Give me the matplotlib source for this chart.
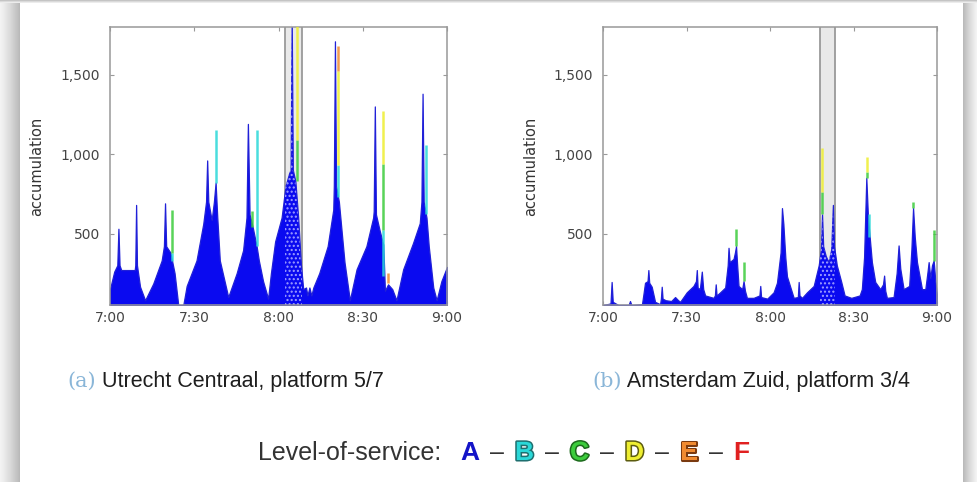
import numpy as np
import matplotlib.pyplot as plt
from matplotlib import patheffects as pe
from matplotlib.patches import Rectangle

# level-of-service colours
LOS = {'A': '#0a0af0', 'B': '#2ad8d8', 'C': '#3ccc3c', 'D': '#eeee30', 'E': '#f08a30', 'F': '#e02020'}

# time axis in minutes after 7:00
xticks = [0, 30, 60, 90, 120]
xtick_labels = ['7:00', '7:30', '8:00', '8:30', '9:00']
yticks = [500, 1000, 1500]
ytick_labels = ['500', '1,000', '1,500']

# (a) Utrecht Centraal, platform 5/7 -- accumulation at level A (envelope)
utr_t = [0, 1.5, 2.6, 3.0, 3.4, 4.0, 8.8, 9.0, 9.3, 9.6,
         10.7, 12.5, 15.4, 18.4, 19.2, 19.6, 20.0, 21.5, 23.0, 24.3,
         26.1, 27.3, 30.8, 33.2, 34.2, 34.6, 35.0, 36.2, 37.0, 37.6,
         38.2, 39.1, 42.1, 45.1, 47.4, 48.6, 49.1, 49.7, 50.8, 52.2,
         53.0, 54.5, 56.3, 57.3, 58.8, 61.1, 62.5, 63.8, 64.3, 64.7,
         65.1, 66.0, 67.0, 68.0, 68.8, 69.8, 70.3, 71.0, 71.7, 72.4,
         74.5, 77.5, 79.5, 79.7, 80.1, 80.5, 81.5, 83.5, 85.4, 87.8,
         91.3, 93.7, 93.9, 94.3, 94.7, 96.0, 97.3, 97.9, 99.0, 100.5,
         102.0, 104.4, 107.9, 110.3, 110.9, 111.3, 111.7, 112.7, 113.5, 115.1,
         116.3, 118.0, 120.0]
utr_a = [150, 260, 300, 530, 300, 270, 270, 300, 680, 300,
         165, 80, 185, 330, 420, 690, 420, 380, 250, 50,
         50, 170, 330, 560, 700, 960, 700, 585, 700, 820,
         600, 330, 100, 250, 395, 600, 1190, 620, 540, 420,
         330, 200, 90, 250, 450, 600, 800, 880, 900, 1850,
         900, 830, 600, 300, 150, 160, 110, 160, 110, 160,
         250, 420, 650, 800, 1710, 800, 700, 320, 80, 275,
         420, 600, 640, 1300, 620, 520, 430, 140, 180, 150,
         80, 275, 440, 565, 700, 1380, 700, 600, 420, 160,
         80, 200, 290]
# worse levels of service on top of the peaks
utr_spk_t = [21.9, 21.9, 37.6, 50.6, 52.2, 66.6, 66.6, 81.3, 81.3, 81.3, 97.3, 97.3, 97.3, 99.0, 112.7]
utr_spk_lo = [330, 380, 820, 540, 420, 830, 1090, 730, 930, 1520, 230, 520, 940, 190, 620]
utr_spk_hi = [380, 650, 1150, 640, 1150, 1090, 1850, 930, 1520, 1680, 520, 940, 1270, 250, 1060]
utr_spk_los = ['B', 'C', 'B', 'C', 'B', 'C', 'D', 'B', 'D', 'E', 'B', 'C', 'D', 'E', 'B']
utr_band = (62.3, 68.2)

# (b) Amsterdam Zuid, platform 3/4
asd_t = [0, 1.5, 2.7, 3.1, 3.5, 5.5, 9.2, 9.7, 10.2, 14.0,
         14.5, 15.1, 16.0, 16.3, 16.6, 17.5, 18.7, 20.5, 20.8, 21.1,
         21.4, 22.5, 24.5, 25.9, 27.0, 27.7, 30.1, 32.5, 33.4, 33.7,
         34.0, 34.8, 35.5, 36.0, 36.7, 39.7, 40.2, 40.5, 40.8, 42.1,
         43.9, 44.8, 45.1, 45.5, 46.9, 47.4, 47.8, 48.2, 48.7, 50.0,
         50.5, 51.0, 51.7, 54.1, 56.2, 56.5, 56.8, 59.0, 61.3, 62.5,
         63.8, 64.3, 64.8, 65.5, 66.1, 68.5, 70.0, 70.3, 70.6, 71.5,
         73.3, 75.7, 77.5, 78.3, 78.7, 79.1, 80.0, 81.0, 82.0, 82.6,
         83.0, 84.0, 85.6, 86.8, 89.2, 92.2, 93.0, 93.8, 94.6, 95.2,
         96.6, 97.8, 99.6, 100.6, 101.0, 101.4, 102.0, 104.4, 105.5, 106.2,
         106.8, 108.0, 110.0, 110.8, 111.4, 112.0, 112.8, 114.6, 115.8, 116.6,
         117.0, 117.6, 118.2, 118.8, 119.4, 120.0]
asd_a = [50, 55, 60, 195, 70, 50, 50, 75, 50, 55,
         115, 190, 200, 270, 190, 165, 70, 55, 90, 165,
         90, 80, 75, 100, 80, 70, 130, 170, 200, 270,
         160, 150, 260, 150, 110, 95, 110, 180, 110, 130,
         160, 300, 410, 320, 340, 380, 420, 300, 170, 150,
         200, 140, 95, 95, 110, 170, 100, 90, 130, 190,
         380, 660, 560, 350, 230, 95, 100, 195, 110, 95,
         130, 170, 300, 400, 620, 420, 360, 320, 400, 680,
         420, 300, 195, 110, 95, 110, 150, 350, 850, 600,
         320, 195, 150, 180, 235, 140, 95, 100, 250, 425,
         280, 150, 170, 400, 660, 480, 320, 150, 150, 260,
         320, 220, 300, 330, 200, 110]
asd_spk_t = [47.8, 50.5, 78.8, 78.8, 94.7, 94.7, 95.6, 111.5, 118.8]
asd_spk_lo = [420, 200, 620, 760, 850, 890, 480, 660, 330]
asd_spk_hi = [530, 320, 760, 1040, 890, 980, 620, 700, 520]
asd_spk_los = ['C', 'C', 'C', 'D', 'C', 'D', 'B', 'C', 'C']
asd_band = (78.1, 83.5)


def panel(ax, t, a, st, slo, shi, slos, band):
    ax.axvspan(band[0], band[1], facecolor='#e9e9e9', edgecolor='none', zorder=0)
    for b in band:
        ax.axvline(b, color='#9a9a9a', lw=1.3, zorder=0.5)
    ax.fill_between(t, 50, a, facecolor=LOS['A'], edgecolor='#2020d8', lw=0.9, zorder=2)
    ax.vlines(st, slo, shi, colors=[LOS[s] for s in slos], lw=1.8, alpha=0.85, zorder=3)
    # dotted hatch on the part of the area inside the band
    hat = ax.fill_between(t, 50, a, facecolor='none', edgecolor='#a0a0ff',
                          hatch='....', lw=0, zorder=2.5)
    hat.set_clip_path(Rectangle((band[0], 0), band[1] - band[0], 2000,
                                transform=ax.transData))
    ax.set_xlim(0, 120)
    ax.set_ylim(50, 1800)
    ax.set_xticks(xticks)
    ax.set_xticklabels(xtick_labels)
    ax.set_yticks(yticks)
    ax.set_yticklabels(ytick_labels)
    ax.tick_params(direction='in', length=3, color='#999999', top=True, right=True,
                   labelsize=10, labelcolor='#444444')
    ax.tick_params(axis='y', pad=7)
    ax.tick_params(axis='x', pad=4)
    for s in ax.spines.values():
        s.set_color('#999999')
        s.set_linewidth(1.1)
    ax.set_ylabel('accumulation', fontsize=10.5, color='#333333')
    ax.yaxis.set_label_coords(-0.195, 0.5)


fig = plt.figure(figsize=(9.77, 4.82), dpi=100)
fig.patch.set_facecolor('white')

# screenshot-style shadow along the edges
grad = np.linspace(0, 1, 64).reshape(1, -1)
sh = fig.add_axes([0, 0, 20 / 977, 1])
sh.imshow(grad, aspect='auto', cmap='Greys', vmin=-0.3, vmax=3.0)
sh.axis('off')
sh = fig.add_axes([963 / 977, 0, 14 / 977, 1])
sh.imshow(grad[:, ::-1], aspect='auto', cmap='Greys', vmin=-0.3, vmax=3.0)
sh.axis('off')
sh = fig.add_axes([0, 1 - 3 / 482, 1, 3 / 482])
sh.imshow(grad.T[::-1], aspect='auto', cmap='Greys', vmin=-0.3, vmax=3.0)
sh.axis('off')

ax1 = fig.add_axes([110 / 977, 1 - 305 / 482, 337 / 977, 278 / 482])
ax2 = fig.add_axes([603 / 977, 1 - 305 / 482, 334 / 977, 278 / 482])
panel(ax1, utr_t, utr_a, utr_spk_t, utr_spk_lo, utr_spk_hi, utr_spk_los, utr_band)
panel(ax2, asd_t, asd_a, asd_spk_t, asd_spk_lo, asd_spk_hi, asd_spk_los, asd_band)

fig.canvas.draw()
r = fig.canvas.get_renderer()


def chain(x, y, parts, gap=0):
    # place text pieces one after another starting at pixel x
    for txt, kw in parts:
        t = fig.text(x / 977, y / 482, txt, va='center', ha='left', **kw)
        x = t.get_window_extent(r).x1 + gap
    return x


# sub-captions
cap = dict(fontsize=15.5, color='#1e1e1e', family='Liberation Sans')
lab = dict(fontsize=15, color='#8ab6d8', family='DejaVu Serif')
chain(67, 482 - 381, [('(a)', lab), (' Utrecht Centraal, platform 5/7', cap)])
chain(592, 482 - 381, [('(b)', lab), (' Amsterdam Zuid, platform 3/4', cap)])

# level-of-service legend
leg = dict(fontsize=18, color='#333333', family='Liberation Sans')
outline = {'A': None, 'B': '#1f6f6f', 'C': '#1d6a1d', 'D': '#5c5c10', 'E': '#7a3a10', 'F': None}
chain(258, 482 - 453, [('Level-of-service:', leg)])
parts = []
for i, k in enumerate(['A', 'B', 'C', 'D', 'E', 'F']):
    kw = dict(fontsize=19, color=LOS[k] if k != 'A' else '#1414c8', family='Liberation Sans',
              fontweight='bold')
    if outline[k]:
        kw['path_effects'] = [pe.Stroke(linewidth=2.2, foreground=outline[k]), pe.Normal()]
    parts.append((k, kw))
    if i < 5:
        parts.append(('\u2013', leg))
chain(460, 482 - 453, parts, gap=11)

plt.savefig('out.png', dpi=100)
plt.close()
